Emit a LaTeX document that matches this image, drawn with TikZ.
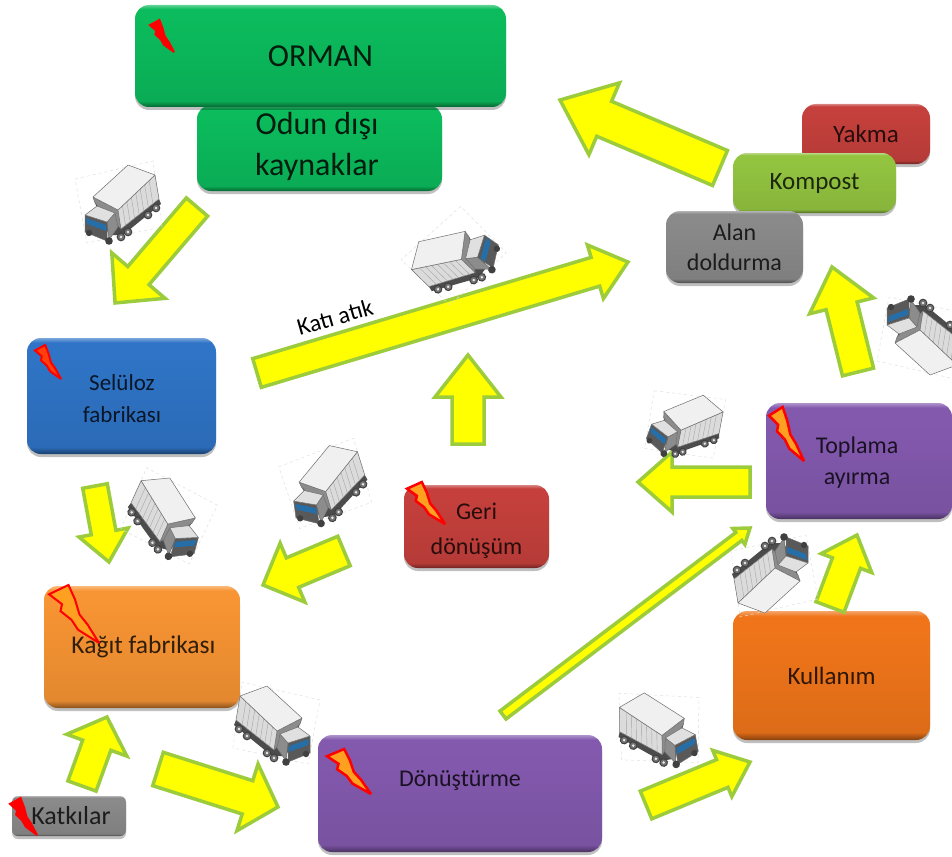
\documentclass[tikz,border=0pt]{standalone}
\usepackage{fontspec}
\setmainfont{Carlito}
\usetikzlibrary{calc,shadows,shapes.geometric}
\colorlet{bevelc}{gray}
\pgfdeclareverticalshading[bevelc]{bevel}{100bp}{
 color(0bp)=(bevelc!55!black);
 color(25bp)=(bevelc!55!black);
 color(28bp)=(bevelc!92!black);
 color(68bp)=(bevelc);
 color(73bp)=(bevelc);
 color(75bp)=(bevelc!65!white);
 color(100bp)=(bevelc!65!white)}
\definecolor{arrowgreen}{HTML}{9CCB3B}
\definecolor{arrowyellow}{rgb}{1,1,0}
\definecolor{truckedge}{HTML}{6E6E6E}
\definecolor{forestgreen}{HTML}{0BBB5C}
\definecolor{brickred}{HTML}{C5403C}
\definecolor{olivegreen}{HTML}{93C440}
\definecolor{midgray}{HTML}{8A8A8A}
\definecolor{selblue}{HTML}{2F74C6}
\definecolor{purplebox}{HTML}{8359AE}
\definecolor{orangebox}{HTML}{F79433}
\definecolor{orangedeep}{HTML}{F0751A}
\definecolor{boltorange}{HTML}{FFA020}
\tikzset{
 boxnode/.style={/utils/exec={\colorlet{bevelc}{#1}},shading=bevel,rounded corners=14pt,
   inner sep=0pt,align=center,text=black!80!#1,
   drop shadow={shadow xshift=0pt,shadow yshift=-3pt,opacity=.25,fill=black}},
 flowarrow/.style={fill=arrowyellow,draw=arrowgreen,line width=3.5pt,line join=miter,miter limit=8},
 truckpart/.style={draw=truckedge,line width=.5pt,line join=round},
 truck/.pic={
  \draw[black!12,dashed,line width=.5pt] (-40,-26) -- (38,-44) -- (47,22) -- (-28,38) -- cycle;
  \fill[black!70] (-20,-2) -- (6,24) -- (44,-6) -- (46,-1) -- (8,30) -- (-6,30) -- cycle;
  \foreach \wx/\wy in {6/32,13/27,33/10,41/3}{
    \draw[black!75,fill=black!55,line width=1pt] (\wx,\wy) circle (3.8);
    \fill[white!85!gray] (\wx,\wy) circle (1.4);}
  \draw[truckpart,fill=black!45] (-22,-8) -- (3,5) -- (6,24) -- (-20,-2) -- cycle;
  \draw[truckpart,fill=black!14] (3,5) -- (40,-30) -- (44,-6) -- (6,24) -- cycle;
  \foreach \t in {.12,.24,.36,.48,.6,.72,.84}{
    \draw[black!35,line width=.4pt] ($(3,5)!\t!(40,-30)$) -- ($(6,24)!\t!(44,-6)$);}
  \draw[truckpart,fill=black!6] (-22,-8) -- (13,-40) -- (40,-30) -- (3,5) -- cycle;
  \draw[truckpart,fill=black!45] (-8,17) -- (0,8) -- (3,22) -- (-6,35) -- cycle;
  \draw[truckpart,fill=black!65] (-30,10) -- (-8,17) -- (-8,36) -- (-30,27) -- cycle;
  \fill[black!75] (-6,36) circle (3.8);
  \fill[black!75] (-26,28) circle (3.2);
  \draw[truckpart,fill=black!12] (-30,10) -- (-18,1) -- (0,8) -- (-8,17) -- cycle;
  \fill[blue!45!cyan!60!black!85] (-29,13) -- (-9,20) -- (-9,26) -- (-28,19) -- cycle;
 },
}
\newcommand{\boltshape}[6]{%
 \begin{scope}[shift={(#1,#2)},x={(#3pt,0pt)},y={(0pt,-#4pt)}]
  \filldraw[draw=red,fill=#5,line width=#6,line join=miter,miter limit=4]
   (0,.16) -- (.39,0) -- (.52,.25) -- (.61,.51) -- (.77,.68) -- (1,1) -- (.58,.77) -- (.45,.6) -- (.23,.45) -- (.26,.33) -- cycle;
 \end{scope}}
\newcommand{\blockarrow}[5]{%
 \path let \p1=(#1),\p2=(#2),\n1={veclen(\x2-\x1,\y2-\y1)},\n2={atan2(\y2-\y1,\x2-\x1)} in
   \pgfextra{\pgfmathsetmacro\tmplen{\n1}\pgfmathsetmacro\tmpang{\n2}\global\let\arrlen\tmplen\global\let\arrang\tmpang};
 \begin{scope}[shift={(#1)},rotate=\arrang]
  \draw[flowarrow] (0,{#3/2}) -- ({\arrlen-#5},{#3/2}) -- ({\arrlen-#5},{#4/2}) -- (\arrlen,0)
    -- ({\arrlen-#5},{-#4/2}) -- ({\arrlen-#5},{-#3/2}) -- (0,{-#3/2}) -- cycle;
 \end{scope}}
\begin{document}
\begin{tikzpicture}[x=1pt,y=-1pt]
\useasboundingbox (0,0) rectangle (952,856);
\fill[white] (0,0) rectangle (952,856);

% boxes
\node[boxnode=forestgreen,minimum width=245pt,minimum height=86pt,text=black!85!forestgreen] (odun) at (319.5,148) {};
\node[font=\fontsize{32}{41}\selectfont,text=black!85!forestgreen,align=center,inner sep=0pt] (oduntxt) at (317,146) {Odun dışı\\kaynaklar};
\node[boxnode=forestgreen,minimum width=371pt,minimum height=102pt,font=\fontsize{32}{37}\selectfont,text=black!85!forestgreen] (orman) at (320.5,56) {ORMAN};
\node[boxnode=brickred,minimum width=128pt,minimum height=60pt,font=\fontsize{25}{27}\selectfont] (yakma) at (866,134) {Yakma};
\node[boxnode=olivegreen,minimum width=163pt,minimum height=60pt,font=\fontsize{25}{27}\selectfont] (kompost) at (814.5,183) {Kompost};
\node[boxnode=midgray,minimum width=137pt,minimum height=72pt,font=\fontsize{24}{30}\selectfont] (alan) at (734.5,247) {Alan\\doldurma};
\node[boxnode=selblue,minimum width=189pt,minimum height=116pt] (seluloz) at (121.5,396) {};
\node[font=\fontsize{23}{32}\selectfont,text=black!80!selblue,align=center,inner sep=0pt] (seltxt) at (122,399) {Selüloz\\fabrikası};
\node[boxnode=purplebox,minimum width=186pt,minimum height=116pt] (toplama) at (859,461) {};
\node[font=\fontsize{24}{31}\selectfont,text=black!80!purplebox,align=center,inner sep=0pt] (toptxt) at (857,463) {Toplama\\ayırma};
\node[boxnode=brickred,minimum width=145pt,minimum height=83pt] (geri) at (476.5,526.5) {};
\node[font=\fontsize{24}{35}\selectfont,text=black!80!brickred,align=center,inner sep=0pt] (gertxt) at (476.5,531) {Geri\\dönüşüm};
\node[boxnode=orangebox,minimum width=196pt,minimum height=122pt,font=\fontsize{25.5}{28}\selectfont] (kagit) at (142,647) {\hspace*{3pt}Kağıt fabrikası};
\node[boxnode=midgray,minimum width=114pt,minimum height=40pt,rounded corners=6pt,font=\fontsize{26}{28}\selectfont] (katki) at (69,816) {\hspace*{4pt}Katkılar};
\node[boxnode=purplebox,minimum width=284pt,minimum height=117pt] (donus) at (460,793.5) {};
\node[font=\fontsize{24}{28}\selectfont,text=black!80!purplebox,inner sep=0pt] (dontxt) at (460,781) {Dönüştürme};
\node[boxnode=orangedeep,minimum width=197pt,minimum height=129pt,font=\fontsize{25}{28}\selectfont] (kullan) at (831.5,675.5) {Kullanım};

% arrow ends
\coordinate (a1s) at (197,207);   \coordinate (a1e) at (115,303);
\coordinate (a2s) at (720,168);   \coordinate (a2e) at (560,100);
\coordinate (a3s) at (257,373);   \coordinate (a3e) at (628,262);
\coordinate (a4s) at (468,444);   \coordinate (a4e) at (468,355);
\coordinate (a5s) at (95,486);    \coordinate (a5e) at (109,562);
\coordinate (a6s) at (344,551);   \coordinate (a6e) at (263,585);
\coordinate (a7s) at (750,482);   \coordinate (a7e) at (638,482);
\coordinate (a8s) at (830,607);   \coordinate (a8e) at (857,535);
\coordinate (a9s) at (503,715);   \coordinate (a9e) at (750,528);
\coordinate (a10s) at (858,372);  \coordinate (a10e) at (832,267);
\coordinate (a11s) at (82,786);   \coordinate (a11e) at (107,717);
\coordinate (a12s) at (158,769);  \coordinate (a12e) at (278,807);
\coordinate (a13s) at (646,805);  \coordinate (a13e) at (750,762);

\blockarrow{a1s}{a1e}{28}{70}{36}
\blockarrow{a2s}{a2e}{38}{78}{48}
\blockarrow{a3s}{a3e}{30}{56}{34}
\blockarrow{a4s}{a4e}{32}{66}{42}
\blockarrow{a5s}{a5e}{25}{50}{30}
\blockarrow{a6s}{a6e}{32}{64}{32}
\blockarrow{a7s}{a7e}{30}{60}{34}
\blockarrow{a8s}{a8e}{30}{54}{30}
\blockarrow{a9s}{a9e}{10}{20}{14}
\blockarrow{a10s}{a10e}{32}{66}{40}
\blockarrow{a11s}{a11e}{30}{64}{30}
\blockarrow{a12s}{a12e}{35}{70}{32}
\blockarrow{a13s}{a13e}{30}{50}{30}

% trucks
\pic at (115,205) {truck};
\pic[xscale=-1,rotate=15] at (172,520) {truck};
\pic[rotate=8] at (322,487) {truck};
\pic[xscale=-1,rotate=-55] at (459,254) {truck};
\pic[yscale=-1] at (917,335) {truck};
\pic[rotate=-20,scale=.9] at (680,425) {truck};
\pic[rotate=180] at (778,573) {truck};
\pic[xscale=-1] at (280,726) {truck};
\pic[xscale=-1,rotate=-10] at (664,730) {truck};

% bolts
\boltshape{150}{20}{24}{32}{red}{2pt}
\boltshape{35}{345}{26}{34}{red!60!boltorange}{2pt}
\boltshape{407}{482}{38}{42}{boltorange}{2.5pt}
\boltshape{769}{407}{35}{54}{boltorange}{2.5pt}
\boltshape{49}{585}{50}{58}{boltorange}{2pt}
\boltshape{327}{749}{44}{45}{boltorange}{2.5pt}
\boltshape{10}{798}{27}{37}{red}{2pt}

\node[rotate=16,font=\fontsize{24}{28}\selectfont,inner sep=0pt] (katiatik) at (335,317) {Katı atık};
\end{tikzpicture}
\end{document}
